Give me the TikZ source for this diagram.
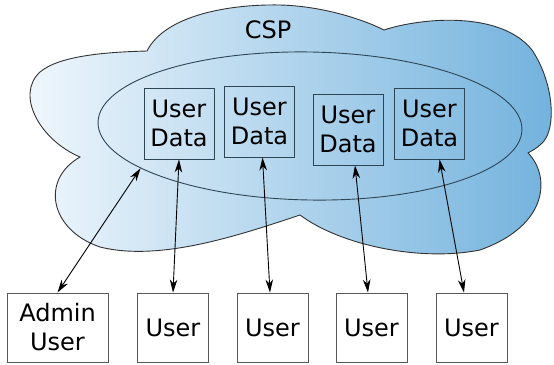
\documentclass[tikz,border=0pt]{standalone}
\usepackage{fontspec}
\setmainfont{DejaVu Sans}
\usetikzlibrary{arrows.meta,shapes.geometric}

\definecolor{cloudleft}{RGB}{242,248,253}
\definecolor{cloudright}{RGB}{114,178,221}
\definecolor{boxline}{RGB}{45,70,85}

\begin{document}
\begin{tikzpicture}[
            x = 1pt, y = -1pt, % pixel coordinates, y down
            > = {Stealth[length=13pt,width=7.5pt,inset=4pt]}, % arrow head style
            line width = 0.9pt,
            font = \fontsize{24}{29}\selectfont,
            databox/.style = {draw = boxline, minimum width = 70pt, minimum height = 71pt, inner sep = 0pt, align = center},
            userbox/.style = {draw = black!65, fill = white, minimum width = 71pt, minimum height = 69pt, inner sep = 0pt, align = center}
        ]
	\useasboundingbox (0,0) rectangle (554,364);

	% the cloud
	\draw[black!80, left color = cloudleft, right color = cloudright]
		(147,51) .. controls (165,15) and (230,4) .. (280,5)
		.. controls (320,6) and (360,18) .. (384,30)
		.. controls (420,18) and (500,10) .. (532,50)
		.. controls (552,80) and (556,120) .. (546,138)
		.. controls (542,145) and (535,149) .. (528,153)
		.. controls (550,175) and (550,225) .. (480,250)
		.. controls (420,262) and (340,245) .. (300,215)
		.. controls (240,235) and (160,262) .. (100,247)
		.. controls (50,230) and (40,180) .. (80,157)
		.. controls (40,140) and (15,95) .. (40,72)
		.. controls (60,55) and (110,52) .. (147,51) -- cycle;

	\node (csp) at (268,30) {CSP};
	\node[draw = boxline, ellipse, minimum width = 424pt, minimum height = 148pt, inner sep = 0pt, rotate = -1] (priv) at (310,126) {};

	\node[databox] (d1) at (179,123.5) {User\\Data};
	\node[databox] (d2) at (259.5,121.5) {User\\Data};
	\node[databox] (d3) at (348,129.5) {User\\Data};
	\node[databox] (d4) at (429.5,123.5) {User\\Data};

	\node[userbox, minimum width = 101pt] (admin) at (57.5,327.5) {Admin\\User};
	\node[userbox] (u1) at (173,327.5) {User};
	\node[userbox] (u2) at (272.5,327.5) {User};
	\node[userbox] (u3) at (371.5,327.5) {User};
	\node[userbox] (u4) at (471.5,327.5) {User};

	\draw[<->] (priv.195) -- (admin.north);
	\draw[<->] (d1.south) -- (u1.north);
	\draw[<->] ([xshift=3pt]d2.south) -- ([xshift=-2.5pt]u2.north);
	\draw[<->] ([xshift=7pt]d3.south) -- ([xshift=-3.5pt]u3.north);
	\draw[<->] ([xshift=10pt]d4.south) -- ([xshift=-7.5pt]u4.north);

\end{tikzpicture}
\end{document}
